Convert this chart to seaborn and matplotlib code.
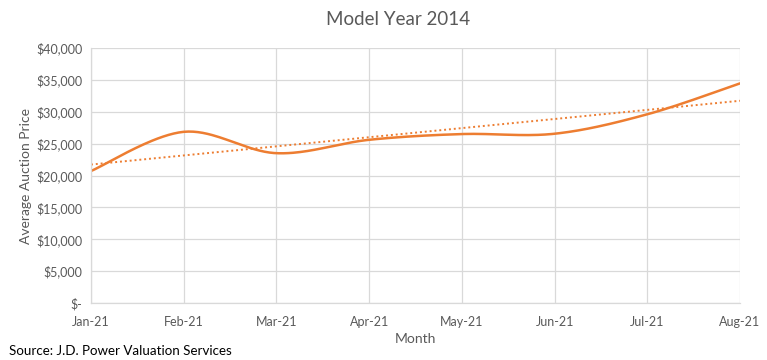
import numpy as np
import pandas as pd
import matplotlib
matplotlib.use("Agg")
import matplotlib.pyplot as plt
import seaborn as sns
from matplotlib.ticker import FuncFormatter

months = ["Jan-21", "Feb-21", "Mar-21", "Apr-21", "May-21", "Jun-21", "Jul-21", "Aug-21"]
prices = [20700, 26850, 23500, 25600, 26500, 26550, 29600, 34450]
y_ticks = [0, 5000, 10000, 15000, 20000, 25000, 30000, 35000, 40000]

ORANGE = "#ED7D31"
GRAY_TXT = "#595959"
GRID = "#D9D9D9"

sns.set_theme(style="white")
plt.rcParams["font.family"] = ["Lato", "DejaVu Sans"]

x = np.arange(len(months), dtype=float)
y = np.array(prices, dtype=float)

# Catmull-Rom smoothing (Excel-like smoothed line)
px = np.concatenate([[x[0]], x, [x[-1]]])
py = np.concatenate([[y[0]], y, [y[-1]]])
sx, sy = [], []
t = np.linspace(0, 1, 40)
for i in range(1, len(px) - 2):
    p0, p1, p2, p3 = (np.array([px[j], py[j]]) for j in (i - 1, i, i + 1, i + 2))
    for tt in t[:-1] if i < len(px) - 3 else t:
        pt = 0.5 * ((2 * p1) + (-p0 + p2) * tt + (2 * p0 - 5 * p1 + 4 * p2 - p3) * tt ** 2
                    + (-p0 + 3 * p1 - 3 * p2 + p3) * tt ** 3)
        sx.append(pt[0]); sy.append(pt[1])
smooth = pd.DataFrame({"x": sx, "y": sy})

slope, intercept = np.polyfit(x, y, 1)
trend = pd.DataFrame({"x": x, "y": slope * x + intercept})

fig = plt.figure(figsize=(7.67, 3.6), dpi=100)
ax = fig.add_axes([0.1186, 0.1583, 0.8462, 0.7084])

sns.lineplot(data=trend, x="x", y="y", ax=ax, color=ORANGE, linewidth=1.4,
             linestyle=(0, (1, 1.5)), sort=False)
sns.lineplot(data=smooth, x="x", y="y", ax=ax, color=ORANGE, linewidth=1.8, sort=False)

ax.set_xlim(0, len(months) - 1)
ax.set_ylim(0, 40000)
ax.set_xticks(x)
ax.set_xticklabels(months)
ax.set_yticks(y_ticks)
ax.yaxis.set_major_formatter(FuncFormatter(lambda v, p: "$-" if v == 0 else f"${v:,.0f}"))
ax.grid(True, color=GRID, linewidth=0.9)
ax.set_axisbelow(True)
for s in ["top", "right"]:
    ax.spines[s].set_visible(False)
for s in ["left", "bottom"]:
    ax.spines[s].set_color(GRID)
    ax.spines[s].set_linewidth(0.9)
ax.tick_params(axis="both", length=0, labelsize=9, labelcolor=GRAY_TXT, pad=6)
ax.tick_params(axis="x", pad=9)

ax.set_xlabel("Month", fontsize=10, color=GRAY_TXT, labelpad=4)
ax.set_ylabel("Average Auction Price", fontsize=10, color=GRAY_TXT, labelpad=3)
fig.text(0.519, 0.945, "Model Year 2014", ha="center", va="center", fontsize=13.5, color=GRAY_TXT)
fig.text(0.012, 0.008, "Source: J.D. Power Valuation Services", ha="left", va="bottom",
         fontsize=9.6, color="black")

fig.savefig("out.png", dpi=100)
